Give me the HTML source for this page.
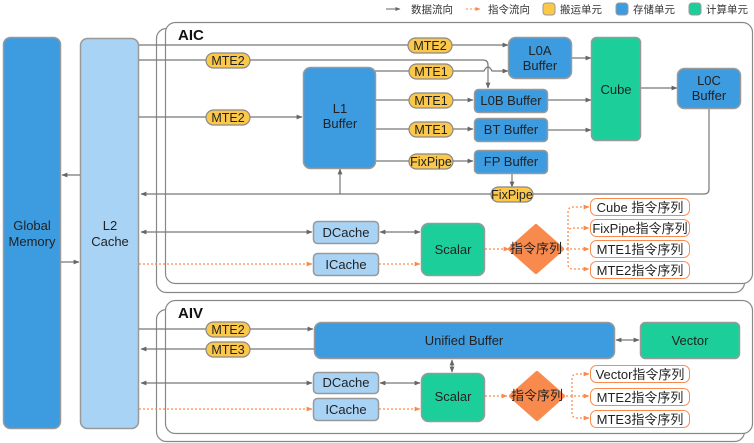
<!DOCTYPE html>
<html><head><meta charset="utf-8"><style>
html,body{margin:0;padding:0;background:#fff;}
svg{display:block;font-family:"Liberation Sans","Noto Sans CJK SC",sans-serif;}
</style></head><body>
<svg width="754" height="443" viewBox="0 0 754 443" xmlns="http://www.w3.org/2000/svg">
<defs>
<marker id="a" viewBox="0 0 10 10" refX="9" refY="5" markerWidth="5" markerHeight="5" orient="auto-start-reverse"><path d="M0,1 L10,5 L0,9 z" fill="#666"/></marker>
<marker id="o" viewBox="0 0 10 10" refX="9" refY="5" markerWidth="5" markerHeight="5" orient="auto-start-reverse"><path d="M0,1 L10,5 L0,9 z" fill="#f98a4e"/></marker>
</defs>
<g font-size="10.5" fill="#333">
<line x1="386" y1="9" x2="400" y2="9" stroke="#666" marker-end="url(#a)"/>
<text x="411" y="13">数据流向</text>
<line x1="466" y1="9" x2="480" y2="9" stroke="#f98a4e" stroke-dasharray="2,2" marker-end="url(#o)"/>
<text x="488" y="13">指令流向</text>
<rect x="543" y="3" width="12" height="12" rx="3" fill="#fcc84a" stroke="#999"/><text x="560" y="13">搬运单元</text>
<rect x="616" y="3" width="12" height="12" rx="3" fill="#3d9be0" stroke="#999"/><text x="633" y="13">存储单元</text>
<rect x="689" y="3" width="12" height="12" rx="3" fill="#1ccf9a" stroke="#999"/><text x="706" y="13">计算单元</text>
</g>
<g fill="#fff" stroke="#888" stroke-width="1.2">
<rect x="156.5" y="28.5" width="588" height="264" rx="10"/>
<rect x="165.5" y="22.5" width="587" height="261" rx="10"/>
<rect x="156.5" y="309.5" width="588" height="132" rx="10"/>
<rect x="165.5" y="300.5" width="587" height="133" rx="10"/>
</g>
<text x="178" y="40" font-size="15" font-weight="bold" fill="#111">AIC</text>
<text x="178" y="318" font-size="15" font-weight="bold" fill="#111">AIV</text>
<rect x="3.5" y="37.5" width="57" height="391" rx="7" fill="#3d9be0" stroke="#999" stroke-width="1.5"/>
<text x="32" y="230" font-size="13" fill="#222" text-anchor="middle">Global</text>
<text x="32" y="246" font-size="13" fill="#222" text-anchor="middle">Memory</text>
<rect x="80.5" y="38.5" width="58" height="390" rx="7" fill="#a9d3f5" stroke="#999" stroke-width="1.5"/>
<text x="110" y="230" font-size="13" fill="#222" text-anchor="middle">L2</text>
<text x="110" y="246" font-size="13" fill="#222" text-anchor="middle">Cache</text>
<g stroke="#777" stroke-width="1.2" fill="none">
<line x1="80" y1="175" x2="62" y2="175" marker-end="url(#a)"/>
<line x1="61" y1="262" x2="79" y2="262" marker-end="url(#a)"/>
<line x1="139" y1="45" x2="508" y2="45" marker-end="url(#a)"/>
<path d="M139,60 H483 Q488,60 488,65 V88" marker-end="url(#a)"/>
<line x1="139" y1="117" x2="302" y2="117" marker-end="url(#a)"/>
<path d="M375,71 H484 Q488,63 492,71 H508" marker-end="url(#a)"/>
<line x1="375" y1="100" x2="473" y2="100" marker-end="url(#a)"/>
<line x1="375" y1="129" x2="473" y2="129" marker-end="url(#a)"/>
<line x1="375" y1="161" x2="473" y2="161" marker-end="url(#a)"/>
<line x1="571" y1="58" x2="591" y2="58" marker-end="url(#a)"/>
<line x1="547" y1="100" x2="591" y2="100" marker-end="url(#a)"/>
<line x1="547" y1="130" x2="591" y2="130" marker-end="url(#a)"/>
<line x1="640" y1="88" x2="677" y2="88" marker-end="url(#a)"/>
<path d="M709,108 V189 Q709,194 704,194 H141" marker-end="url(#a)"/>
<line x1="340" y1="194" x2="340" y2="169" marker-end="url(#a)"/>
<line x1="512" y1="173" x2="512" y2="187" marker-end="url(#a)"/>
<line x1="141" y1="232" x2="312" y2="232" marker-start="url(#a)" marker-end="url(#a)"/>
<line x1="380" y1="232" x2="420" y2="232" marker-start="url(#a)" marker-end="url(#a)"/>
<line x1="139" y1="329" x2="313" y2="329" marker-end="url(#a)"/>
<line x1="314" y1="349" x2="141" y2="349" marker-end="url(#a)"/>
<line x1="616" y1="340" x2="639" y2="340" marker-start="url(#a)" marker-end="url(#a)"/>
<line x1="452" y1="360" x2="452" y2="372" marker-start="url(#a)" marker-end="url(#a)"/>
<line x1="141" y1="383" x2="312" y2="383" marker-start="url(#a)" marker-end="url(#a)"/>
<line x1="380" y1="383" x2="420" y2="383" marker-start="url(#a)" marker-end="url(#a)"/>
</g>
<g stroke="#f98a4e" stroke-width="1.2" fill="none" stroke-dasharray="2,2">
<line x1="139" y1="264" x2="312" y2="264" marker-end="url(#o)"/>
<line x1="379" y1="264" x2="420" y2="264" marker-end="url(#o)"/>
<line x1="485" y1="249" x2="509" y2="249" marker-end="url(#o)"/>
<line x1="562" y1="249" x2="589" y2="249" marker-end="url(#o)"/>
<path d="M568,249 V212 Q568,207 573,207 H589" marker-end="url(#o)"/>
<path d="M568,249 V233 Q568,228 573,228 H589" marker-end="url(#o)"/>
<path d="M568,249 V264 Q568,269 573,269 H589" marker-end="url(#o)"/>
<line x1="139" y1="409" x2="312" y2="409" marker-end="url(#o)"/>
<line x1="379" y1="409" x2="420" y2="409" marker-end="url(#o)"/>
<line x1="485" y1="396" x2="507" y2="396" marker-end="url(#o)"/>
<line x1="562" y1="396" x2="589" y2="396" marker-end="url(#o)"/>
<path d="M572,396 V379 Q572,374 577,374 H589" marker-end="url(#o)"/>
<path d="M572,396 V413 Q572,418 577,418 H589" marker-end="url(#o)"/>
</g>
<g font-size="12.5" fill="#222" text-anchor="middle" stroke-width="1.2">
<rect x="408" y="38" width="44" height="15" rx="7.5" fill="#fcc84a" stroke="#888"/><text x="430" y="50" stroke="none">MTE2</text>
<rect x="206" y="53" width="44" height="15" rx="7.5" fill="#fcc84a" stroke="#888"/><text x="228" y="65" stroke="none">MTE2</text>
<rect x="206" y="110" width="44" height="15" rx="7.5" fill="#fcc84a" stroke="#888"/><text x="228" y="122" stroke="none">MTE2</text>
<rect x="409" y="64" width="44" height="15" rx="7.5" fill="#fcc84a" stroke="#888"/><text x="431" y="76" stroke="none">MTE1</text>
<rect x="409" y="93" width="44" height="15" rx="7.5" fill="#fcc84a" stroke="#888"/><text x="431" y="105" stroke="none">MTE1</text>
<rect x="409" y="122" width="44" height="15" rx="7.5" fill="#fcc84a" stroke="#888"/><text x="431" y="134" stroke="none">MTE1</text>
<rect x="409" y="154" width="44" height="15" rx="7.5" fill="#fcc84a" stroke="#888"/><text x="431" y="166" stroke="none">FixPipe</text>
<rect x="491" y="187" width="42" height="15" rx="7.5" fill="#fcc84a" stroke="#888"/><text x="512" y="199" stroke="none">FixPipe</text>
<rect x="206" y="322" width="44" height="15" rx="7.5" fill="#fcc84a" stroke="#888"/><text x="228" y="334" stroke="none">MTE2</text>
<rect x="206" y="342" width="44" height="15" rx="7.5" fill="#fcc84a" stroke="#888"/><text x="228" y="354" stroke="none">MTE3</text>
</g>
<g font-size="13" fill="#222" text-anchor="middle" stroke="#999" stroke-width="1.5">
<rect x="303.5" y="67.5" width="72" height="101" rx="7" fill="#3d9be0"/>
<text x="340" y="113" stroke="none">L1</text><text x="340" y="128" stroke="none">Buffer</text>
<rect x="508.5" y="37.5" width="63" height="41" rx="7" fill="#3d9be0"/>
<text x="540" y="55" stroke="none">L0A</text><text x="540" y="70" stroke="none">Buffer</text>
<rect x="591.5" y="37.5" width="49" height="103" rx="5" fill="#1ccf9a"/>
<text x="616" y="94" stroke="none">Cube</text>
<rect x="677.5" y="68.5" width="63" height="40" rx="7" fill="#3d9be0"/>
<text x="709" y="85" stroke="none">L0C</text><text x="709" y="100" stroke="none">Buffer</text>
<rect x="474.5" y="89.5" width="73" height="23" rx="4" fill="#3d9be0"/><text x="511" y="105" stroke="none">L0B Buffer</text>
<rect x="474.5" y="118.5" width="73" height="23" rx="4" fill="#3d9be0"/><text x="511" y="134" stroke="none">BT Buffer</text>
<rect x="474.5" y="150.5" width="73" height="23" rx="4" fill="#3d9be0"/><text x="511" y="166" stroke="none">FP Buffer</text>
<rect x="313.5" y="221.5" width="65" height="22" rx="4" fill="#a9d3f5"/><text x="346" y="237" stroke="none">DCache</text>
<rect x="313.5" y="253.5" width="65" height="22" rx="4" fill="#a9d3f5"/><text x="346" y="269" stroke="none">ICache</text>
<rect x="421.5" y="223.5" width="63" height="52" rx="7" fill="#1ccf9a"/><text x="453" y="254" stroke="none">Scalar</text>
<rect x="314.5" y="322.5" width="300" height="36" rx="7" fill="#3d9be0"/><text x="464" y="345" stroke="none">Unified Buffer</text>
<rect x="640.5" y="322.5" width="99" height="36" rx="5" fill="#1ccf9a"/><text x="690" y="345" stroke="none">Vector</text>
<rect x="313.5" y="372.5" width="65" height="21" rx="4" fill="#a9d3f5"/><text x="346" y="387" stroke="none">DCache</text>
<rect x="313.5" y="398.5" width="65" height="22" rx="4" fill="#a9d3f5"/><text x="346" y="414" stroke="none">ICache</text>
<rect x="421.5" y="373.5" width="63" height="48" rx="7" fill="#1ccf9a"/><text x="453" y="401" stroke="none">Scalar</text>
</g>
<path d="M536,226 L562,249 L536,272 L510,249 z" fill="#f98a4e" stroke="#f98a4e" stroke-linejoin="round" stroke-width="4"/>
<text x="536" y="253" font-size="13" fill="#222" text-anchor="middle">指令序列</text>
<path d="M537,373 L563,396 L537,419 L511,396 z" fill="#f98a4e" stroke="#f98a4e" stroke-linejoin="round" stroke-width="4"/>
<text x="537" y="400" font-size="13" fill="#222" text-anchor="middle">指令序列</text>
<g font-size="13" fill="#222" text-anchor="middle" stroke="#f98a4e" stroke-width="1">
<rect x="590.5" y="198.5" width="99" height="17" rx="6" fill="#fff"/><text x="640" y="212" stroke="none">Cube 指令序列</text>
<rect x="590.5" y="219.5" width="99" height="17" rx="6" fill="#fff"/><text x="640" y="233" stroke="none">FixPipe指令序列</text>
<rect x="590.5" y="240.5" width="99" height="17" rx="6" fill="#fff"/><text x="640" y="254" stroke="none">MTE1指令序列</text>
<rect x="590.5" y="261.5" width="99" height="17" rx="6" fill="#fff"/><text x="640" y="275" stroke="none">MTE2指令序列</text>
<rect x="590.5" y="365.5" width="99" height="17" rx="6" fill="#fff"/><text x="640" y="379" stroke="none">Vector指令序列</text>
<rect x="590.5" y="388.5" width="99" height="17" rx="6" fill="#fff"/><text x="640" y="402" stroke="none">MTE2指令序列</text>
<rect x="590.5" y="410.5" width="99" height="17" rx="6" fill="#fff"/><text x="640" y="424" stroke="none">MTE3指令序列</text>
</g>
</svg>
</body></html>
